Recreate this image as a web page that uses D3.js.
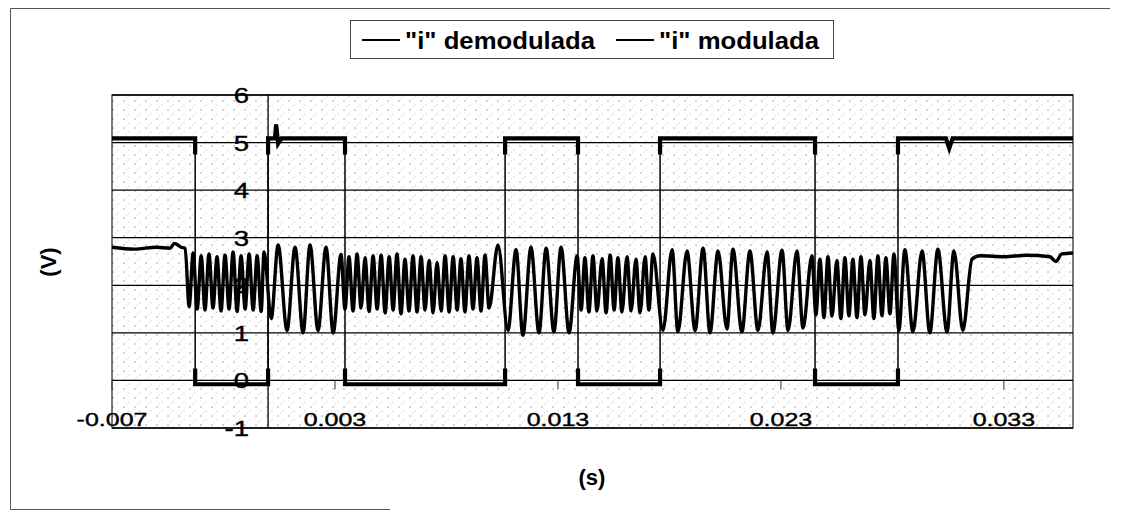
<!DOCTYPE html>
<html>
<head>
<meta charset="utf-8">
<script src="https://cdn.jsdelivr.net/npm/d3@7"></script>
<style>
  body { margin: 0; background: #fff; }
  text { font-family: "Liberation Sans", Arial, sans-serif; fill: #000; }
</style>
</head>
<body>
<div id="chart"></div>
<script>
// ---- data ----
const seriesNames = ['"i" demodulada', '"i" modulada']
const yTicks = [-1, 0, 1, 2, 3, 4, 5, 6]
const xTicks = [-0.007, 0.003, 0.013, 0.023, 0.033]
const xTickLabels = ["-0.007", "0.003", "0.013", "0.023", "0.033"]
const xMax = 0.0361

// demodulated square wave, time in ms
const demodMs = [-7.0, -3.27, -3.27, 0.0, 0.0, 0.31, 0.36, 0.45, 0.6, 3.45, 3.45, 10.63, 10.63, 13.90, 13.90,
    17.58, 17.58, 24.53, 24.53, 28.25, 28.25, 30.40, 30.55, 30.70, 36.10]
const demodV = [5.09, 5.09, -0.08, -0.08, 5.09, 5.09, 5.38, 4.98, 5.09, 5.09, -0.08, -0.08, 5.09, 5.09, -0.08,
    -0.08, 5.09, 5.09, -0.08, -0.08, 5.09, 5.09, 4.88, 5.09, 5.09]

// modulated (FSK) signal: peaks and troughs, [ms, V]
const modulada = [
    [-7.00, 2.80], [-6.00, 2.76], [-5.00, 2.80], [-4.40, 2.78], [-4.20, 2.88], [-3.90, 2.80], [-3.72, 2.78],
    [-3.54, 1.55], [-3.36, 2.68], [-3.18, 1.50], [-3.00, 2.62], [-2.83, 1.48], [-2.65, 2.66], [-2.47, 1.52],
    [-2.29, 2.60], [-2.11, 1.46], [-1.93, 2.64], [-1.75, 1.50], [-1.57, 2.70], [-1.39, 1.45], [-1.21, 2.62],
    [-1.03, 1.50], [-0.85, 2.66], [-0.67, 1.48], [-0.49, 2.62], [-0.31, 1.45], [-0.18, 2.70],
    [0.14, 1.30], [0.45, 2.85], [0.85, 1.05], [1.21, 2.80], [1.57, 1.00], [1.88, 2.85], [2.24, 1.05],
    [2.60, 2.80], [2.92, 1.00],
    [3.27, 2.65], [3.45, 1.50], [3.63, 2.60], [3.81, 1.46], [3.99, 2.66], [4.17, 1.52], [4.35, 2.58],
    [4.53, 1.45], [4.71, 2.62], [4.89, 1.50], [5.07, 2.64], [5.25, 1.42], [5.43, 2.60], [5.61, 1.48],
    [5.78, 2.66], [5.96, 1.40], [6.14, 2.55], [6.32, 1.46], [6.50, 2.62], [6.68, 1.44], [6.86, 2.60],
    [7.04, 1.48], [7.22, 2.52], [7.40, 1.42], [7.58, 2.48], [7.76, 1.46], [7.94, 2.62], [8.12, 1.44],
    [8.30, 2.60], [8.48, 1.48], [8.65, 2.56], [8.83, 1.44], [9.01, 2.62], [9.19, 1.50], [9.37, 2.58],
    [9.55, 1.46], [9.73, 2.64], [9.91, 1.52],
    [10.31, 2.85], [10.76, 1.05], [11.12, 2.75], [11.43, 0.95], [11.79, 2.80], [12.15, 1.00], [12.47, 2.78],
    [12.82, 1.02], [13.14, 2.80], [13.50, 1.00],
    [13.86, 2.62], [14.04, 1.48], [14.21, 2.58], [14.39, 1.44], [14.57, 2.62], [14.75, 1.46], [14.98, 2.56],
    [15.16, 1.42], [15.34, 2.64], [15.52, 1.48], [15.69, 2.58], [15.87, 1.44], [16.10, 2.60], [16.28, 1.46],
    [16.50, 2.55], [16.68, 1.42], [16.91, 2.60], [17.08, 1.48], [17.26, 2.66],
    [17.71, 1.05], [18.12, 2.75], [18.38, 1.02], [18.79, 2.72], [19.15, 1.05], [19.51, 2.78], [19.82, 1.00],
    [20.18, 2.72], [20.58, 1.08], [20.85, 2.76], [21.25, 1.02], [21.61, 2.72], [21.97, 1.05], [22.38, 2.70],
    [22.64, 1.00], [23.05, 2.74], [23.32, 1.05], [23.72, 2.72], [23.99, 1.10],
    [24.39, 2.62], [24.57, 1.38], [24.75, 2.55], [24.93, 1.32], [25.11, 2.60], [25.29, 1.35], [25.51, 2.52],
    [25.69, 1.30], [25.87, 2.58], [26.05, 1.36], [26.23, 2.55], [26.41, 1.32], [26.59, 2.60], [26.77, 1.38],
    [26.99, 2.52], [27.17, 1.30], [27.35, 2.62], [27.53, 1.36], [27.71, 2.58], [27.89, 1.40], [28.07, 2.66],
    [28.29, 1.05], [28.56, 2.75], [28.92, 1.02], [29.33, 2.72], [29.68, 1.00], [30.04, 2.76], [30.45, 1.02],
    [30.76, 2.72], [31.16, 1.05], [31.57, 2.55], [31.93, 2.62], [33.00, 2.60], [34.00, 2.63], [35.07, 2.60],
    [35.33, 2.50], [35.60, 2.66], [36.10, 2.68]
]

// ---- layout ----
let width = 1121,
    height = 514
let plot = {left: 112, right: 1073, top: 95, bottom: 428}

let svg = d3.select('#chart')
    .append('svg')
    .attr("width", width)
    .attr("height", height)

let x = d3.scaleLinear().domain([xTicks[0], xMax]).range([plot.left, plot.right])
let y = d3.scaleLinear().domain([yTicks[0], yTicks[yTicks.length - 1]]).range([plot.bottom, plot.top])

// outer chart frame (partly faded in the scan)
let frame = svg.append("g").attr("stroke", "#555").attr("stroke-width", 1)
frame.append("line").attr("x1", 10.5).attr("y1", 8.5).attr("x2", 1110).attr("y2", 8.5)
frame.append("line").attr("x1", 10.5).attr("y1", 8.5).attr("x2", 10.5).attr("y2", 509.5)
frame.append("line").attr("x1", 10.5).attr("y1", 509.5).attr("x2", 390).attr("y2", 509.5)

// speckled plot background
let defs = svg.append("defs")
let pat = defs.append("pattern")
    .attr("id", "speck")
    .attr("patternUnits", "userSpaceOnUse")
    .attr("width", 11).attr("height", 9)
pat.append("circle").attr("cx", 3).attr("cy", 2).attr("r", 0.7).attr("fill", "#888")
pat.append("circle").attr("cx", 8).attr("cy", 6).attr("r", 0.6).attr("fill", "#aaa")
pat.append("circle").attr("cx", 5.5).attr("cy", 8).attr("r", 0.5).attr("fill", "#bbb")

svg.append("rect")
    .attr("x", plot.left).attr("y", plot.top)
    .attr("width", plot.right - plot.left).attr("height", plot.bottom - plot.top)
    .attr("fill", "url(#speck)")
    .attr("stroke", "#222")
    .attr("stroke-width", 1.2)

// horizontal gridlines
svg.append("g").selectAll("line")
    .data(yTicks)
    .enter().append("line")
    .attr("x1", plot.left).attr("x2", plot.right)
    .attr("y1", function (d) { return y(d) })
    .attr("y2", function (d) { return y(d) })
    .attr("stroke", "#000")
    .attr("stroke-width", 1.3)

// y axis line crossing at x = 0
svg.append("line")
    .attr("x1", x(0)).attr("x2", x(0))
    .attr("y1", plot.top).attr("y2", plot.bottom)
    .attr("stroke", "#000").attr("stroke-width", 1.3)

// x tick marks below the zero line
svg.append("g").selectAll("line")
    .data(xTicks)
    .enter().append("line")
    .attr("x1", function (d) { return x(d) })
    .attr("x2", function (d) { return x(d) })
    .attr("y1", y(0)).attr("y2", y(0) + 9)
    .attr("stroke", "#333").attr("stroke-width", 1)

// clip only the flat parts (not the edges) for the thick stroke
let clip = defs.append("clipPath").attr("id", "plateaus")
clip.append("rect").attr("x", plot.left).attr("width", plot.right - plot.left)
    .attr("y", y(5.45)).attr("height", y(4.75) - y(5.45))
clip.append("rect").attr("x", plot.left).attr("width", plot.right - plot.left)
    .attr("y", y(0.25)).attr("height", y(-0.45) - y(0.25))

// series
let lineGen = d3.line()
    .x(function (d) { return x(d[0] / 1000) })
    .y(function (d) { return y(d[1]) })

let demodPts = demodMs.map(function (t, i) { return [t, demodV[i]] })

svg.append("path")
    .datum(modulada)
    .attr("d", lineGen.curve(d3.curveMonotoneX))
    .attr("fill", "none")
    .attr("stroke", "#000")
    .attr("stroke-width", 3.4)
    .attr("stroke-linejoin", "round")

svg.append("path")
    .datum(demodPts)
    .attr("d", lineGen.curve(d3.curveLinear))
    .attr("fill", "none")
    .attr("stroke", "#000")
    .attr("stroke-width", 1.5)

// thick noisy-looking plateaus of the square wave
svg.append("path")
    .datum(demodPts)
    .attr("d", lineGen.curve(d3.curveLinear))
    .attr("fill", "none")
    .attr("stroke", "#000")
    .attr("stroke-width", 4.2)
    .attr("clip-path", "url(#plateaus)")

// tick labels
svg.append("g").selectAll("text")
    .data(yTicks)
    .enter().append("text")
    .attr("transform", function (d) { return "translate(249," + (y(d) + 8) + ") scale(1.25,1)" })
    .attr("text-anchor", "end")
    .attr("font-size", 22)
    .attr("stroke", "#000").attr("stroke-width", 0.4)
    .text(function (d) { return d })

svg.append("g").selectAll("text")
    .data(xTicks)
    .enter().append("text")
    .attr("transform", function (d) { return "translate(" + x(d) + ",426) scale(1.35,1)" })
    .attr("text-anchor", "middle")
    .attr("font-size", 18.5)
    .attr("stroke", "#000").attr("stroke-width", 0.4)
    .text(function (d, i) { return xTickLabels[i] })

// axis titles
svg.append("text")
    .attr("transform", "translate(56,262) rotate(-90)")
    .attr("text-anchor", "middle")
    .attr("font-size", 22)
    .attr("font-weight", "bold")
    .text("(V)")

svg.append("text")
    .attr("x", 592).attr("y", 485)
    .attr("text-anchor", "middle")
    .attr("font-size", 22)
    .attr("font-weight", "bold")
    .text("(s)")

// legend
let legend = svg.append("g")
legend.append("rect")
    .attr("x", 350.5).attr("y", 20.5)
    .attr("width", 483).attr("height", 38)
    .attr("fill", "#fff")
    .attr("stroke", "#444")
let legendX = [362, 616]
let legendTextW = [190, 160]
seriesNames.forEach(function (name, i) {
    legend.append("line")
        .attr("x1", legendX[i]).attr("x2", legendX[i] + 38)
        .attr("y1", 40).attr("y2", 40)
        .attr("stroke", "#000").attr("stroke-width", 2)
    legend.append("text")
        .attr("x", legendX[i] + 43).attr("y", 49)
        .attr("font-size", 24)
        .attr("font-weight", "bold")
        .attr("textLength", legendTextW[i])
        .attr("lengthAdjust", "spacingAndGlyphs")
        .text(name)
})
</script>
</body>
</html>
